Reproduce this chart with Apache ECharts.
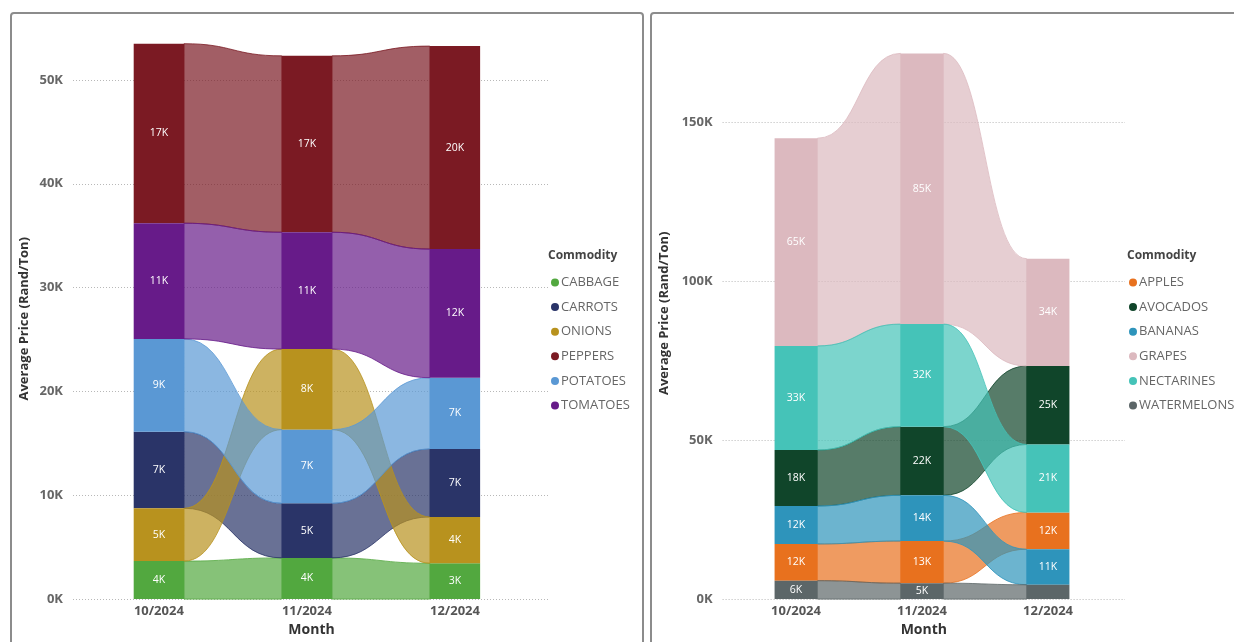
<!DOCTYPE html>
<html>
<head>
<meta charset="utf-8">
<title>Average Price by Commodity</title>
<script src="https://cdn.jsdelivr.net/npm/echarts@6/dist/echarts.min.js"></script>
<style>
  html, body { margin: 0; padding: 0; background: #ffffff; }
  #chart { width: 1234px; height: 642px; }
</style>
</head>
<body>
<div id="chart"></div>
<script>
// ---- data: average price (Rand/Ton) per month ----
const months = ['10/2024', '11/2024', '12/2024'];

// vegetables
const vegNames = ['CABBAGE', 'CARROTS', 'ONIONS', 'PEPPERS', 'POTATOES', 'TOMATOES'];
const cabbage  = [3660, 3970, 3450];
const carrots  = [7370, 5250, 6550];
const onions   = [5090, 7760, 4460];
const peppers  = [17290, 16990, 19550];
const potatoes = [8940, 7100, 6860];
const tomatoes = [11140, 11250, 12390];

// fruit
const fruitNames  = ['APPLES', 'AVOCADOS', 'BANANAS', 'GRAPES', 'NECTARINES', 'WATERMELONS'];
const apples      = [11550, 13250, 11580];
const avocados    = [17610, 21600, 24710];
const bananas     = [11960, 14410, 11180];
const grapes      = [65400, 85240, 33790];
const nectarines  = [32780, 32300, 21400];
const watermelons = [5810, 5020, 4520];

const vegColors   = ['#52a83f', '#2a3468', '#b8921e', '#7b1a23', '#5a98d4', '#671b89'];
const fruitColors = ['#e8711e', '#10452a', '#2e94bb', '#dcb9bf', '#45c3b8', '#5c6668'];

// ---- helpers ----
const FONT = '"Segoe UI", "Open Sans", sans-serif';
const BAR_RATIO = 0.34;

function rgba(hex, a) {
  const n = parseInt(hex.slice(1), 16);
  return 'rgba(' + ((n >> 16) & 255) + ',' + ((n >> 8) & 255) + ',' + (n & 255) + ',' + a + ')';
}

// ribbon layout: in every month the commodities are stacked smallest at the bottom
function stackBases(values) {
  const bases = values.map(() => []);
  for (let j = 0; j < months.length; j++) {
    const order = values.map((_, k) => k).sort((a, b) => values[a][j] - values[b][j]);
    let acc = 0;
    order.forEach(k => { bases[k][j] = acc; acc += values[k][j]; });
  }
  return bases;
}

function kLabel(v) { return Math.round(v / 1000) + 'K'; }

function panelSeries(names, values, colors, axisIndex) {
  const bases = stackBases(values);
  const ribbons = [];
  const bars = [];
  names.forEach((name, k) => {
    const data = values[k].map((v, j) => [j, v]);
    // flowing band from one month's bar to the next
    ribbons.push({
      type: 'custom', name, xAxisIndex: axisIndex, yAxisIndex: axisIndex,
      z: 1, silent: true, itemStyle: { color: colors[k] }, data,
      renderItem: (params, api) => {
        const j = api.value(0);
        if (j >= months.length - 1) return { type: 'group', children: [] };
        const bw = api.size([1, 0])[0] * BAR_RATIO;
        const a0 = api.coord([j, bases[k][j]]);
        const a1 = api.coord([j, bases[k][j] + values[k][j]]);
        const b0 = api.coord([j + 1, bases[k][j + 1]]);
        const b1 = api.coord([j + 1, bases[k][j + 1] + values[k][j + 1]]);
        const x0 = a0[0] + bw / 2, x1 = b0[0] - bw / 2, xm = (x0 + x1) / 2;
        const d = 'M' + x0 + ' ' + a1[1] +
          ' C' + xm + ' ' + a1[1] + ' ' + xm + ' ' + b1[1] + ' ' + x1 + ' ' + b1[1] +
          ' L' + x1 + ' ' + b0[1] +
          ' C' + xm + ' ' + b0[1] + ' ' + xm + ' ' + a0[1] + ' ' + x0 + ' ' + a0[1] + ' Z';
        return {
          type: 'path', shape: { pathData: d },
          style: { fill: rgba(colors[k], 0.7), stroke: rgba(colors[k], 0.8), lineWidth: 1 }
        };
      }
    });
    // solid month segment with its value label
    bars.push({
      type: 'custom', name, xAxisIndex: axisIndex, yAxisIndex: axisIndex,
      z: 2, silent: true, itemStyle: { color: colors[k] }, data,
      renderItem: (params, api) => {
        const j = api.value(0);
        const v = api.value(1);
        const bw = api.size([1, 0])[0] * BAR_RATIO;
        const p0 = api.coord([j, bases[k][j]]);
        const p1 = api.coord([j, bases[k][j] + v]);
        const h = p0[1] - p1[1];
        const children = [{
          type: 'rect',
          shape: { x: p0[0] - bw / 2, y: p1[1], width: bw, height: h },
          style: { fill: colors[k] }
        }];
        if (h >= 15) {
          children.push({
            type: 'text',
            style: {
              text: kLabel(v), x: p0[0], y: (p0[1] + p1[1]) / 2,
              fill: '#ffffff', fontSize: 10.5, fontFamily: FONT,
              align: 'center', verticalAlign: 'middle'
            }
          });
        }
        return { type: 'group', children };
      }
    });
  });
  return ribbons.concat(bars);
}

function xAxisFor(gridIndex, min, max) {
  return {
    type: 'value', gridIndex, min, max,
    name: 'Month', nameLocation: 'middle', nameGap: 23,
    nameTextStyle: { color: '#333', fontSize: 14, fontWeight: 'bold', fontFamily: FONT },
    axisLine: { show: false }, axisTick: { show: false }, splitLine: { show: false },
    axisLabel: {
      customValues: [0, 1, 2],
      formatter: v => months[v],
      margin: 6, color: '#555', fontSize: 13, fontWeight: 'bold', fontFamily: FONT
    }
  };
}

function yAxisFor(gridIndex, max, interval, nameGap) {
  return {
    type: 'value', gridIndex, min: 0, max, interval,
    name: 'Average Price (Rand/Ton)', nameLocation: 'middle', nameGap, nameRotate: 90,
    nameTextStyle: { color: '#333', fontSize: 13, fontWeight: 'bold', fontFamily: FONT },
    axisLine: { show: false }, axisTick: { show: false },
    axisLabel: {
      formatter: v => (v / 1000) + 'K', showMaxLabel: false,
      margin: 10, color: '#666', fontSize: 13, fontWeight: 'bold', fontFamily: FONT
    },
    splitLine: { show: true, showMaxLine: false, lineStyle: { color: '#b8b8b8', type: [1, 2], width: 1 } }
  };
}

function legendFor(names, left) {
  return {
    data: names, orient: 'vertical', left, top: 270,
    icon: 'circle', itemWidth: 8, itemHeight: 8, itemGap: 9.6,
    selectedMode: false,
    textStyle: { color: '#666', fontSize: 13, fontFamily: FONT, lineHeight: 15, padding: [0, 0, 0, -3] }
  };
}

const chart = echarts.init(document.getElementById('chart'), null, { renderer: 'canvas' });

chart.setOption({
  animation: false,
  backgroundColor: '#ffffff',
  grid: [
    { left: 73, right: 684, top: 38.4, bottom: 41.5 },
    { left: 722.6, right: 109, top: 27.4, bottom: 41.3 }
  ],
  xAxis: [
    xAxisFor(0, -0.58, 2.642),
    xAxisFor(1, -0.5825, 2.611)
  ],
  yAxis: [
    yAxisFor(0, 54000, 10000, 42),
    yAxisFor(1, 180000, 50000, 52)
  ],
  legend: [
    legendFor(vegNames, 546),
    legendFor(fruitNames, 1124)
  ],
  graphic: [
    { type: 'rect', shape: { x: 11, y: 13, width: 632, height: 660, r: 3 },
      style: { fill: 'none', stroke: '#8c8c8c', lineWidth: 2 }, silent: true, z: 0 },
    { type: 'rect', shape: { x: 651, y: 13, width: 620, height: 660, r: 3 },
      style: { fill: 'none', stroke: '#8c8c8c', lineWidth: 2 }, silent: true, z: 0 },
    { type: 'text', left: 548, top: 250,
      style: { text: 'Commodity', fill: '#444', fontSize: 12, fontWeight: 'bold', fontFamily: FONT } },
    { type: 'text', left: 1127, top: 250,
      style: { text: 'Commodity', fill: '#444', fontSize: 12, fontWeight: 'bold', fontFamily: FONT } }
  ],
  series: panelSeries(vegNames, [cabbage, carrots, onions, peppers, potatoes, tomatoes], vegColors, 0)
    .concat(panelSeries(fruitNames, [apples, avocados, bananas, grapes, nectarines, watermelons], fruitColors, 1))
});
</script>
</body>
</html>
